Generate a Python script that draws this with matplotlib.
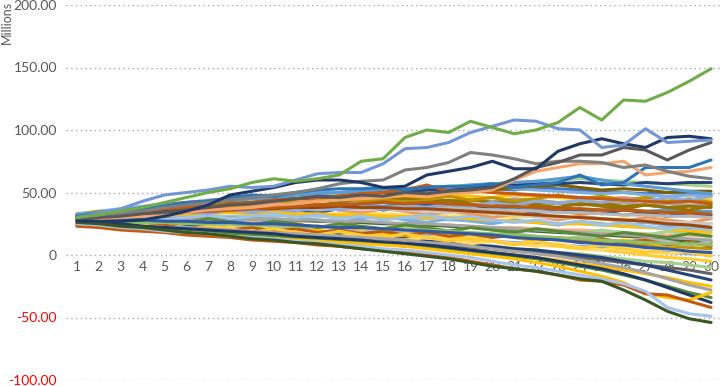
import matplotlib
matplotlib.use("Agg")
import matplotlib.pyplot as plt

categories = list(range(1, 31))
y_ticks = [-100, -50, 0, 50, 100, 150, 200]
y_tick_labels = ["-100.00", "-50.00", "0", "50.00", "100.00", "150.00", "200.00"]
unit_label = "Millions"

# ---- middle series ----
m01 = [32,34,35,37,38,40,41,43,44,46,45,47,48,47,49,50,51,50,52,53,52,54,53,52,51,50,49,50,49,48]
m02 = [30,32,33,35,36,37,39,40,41,42,44,43,45,46,45,47,46,48,47,46,48,47,46,45,46,44,45,43,44,44]
m03 = [27,29,31,32,33,35,36,36,38,39,38,40,41,42,42,44,43,42,44,43,45,44,42,43,41,42,40,41,40,40]
m04 = [29,30,32,33,33,34,35,36,36,38,37,39,38,40,39,41,40,39,40,38,39,37,38,37,36,37,35,36,35,35]
m05 = [31,32,32,34,35,34,36,37,36,37,38,37,38,38,37,38,37,36,37,35,36,34,35,33,34,32,33,31,32,30]
m06 = [26,27,28,29,29,30,31,31,32,32,33,32,33,34,33,32,33,31,32,31,30,31,29,30,28,29,27,26,26,25]
m07 = [28,28,29,29,30,30,30,31,31,31,32,31,31,30,30,29,29,28,28,27,27,26,25,25,24,23,22,22,21,20]
m08 = [25,26,26,27,27,27,28,28,27,28,27,27,26,26,25,25,24,24,23,22,22,21,20,20,19,18,17,16,16,15]
m09 = [30,30,30,31,30,30,29,29,29,28,28,27,27,26,25,25,24,23,22,21,20,19,18,17,16,15,14,12,11,10]
m10 = [27,27,26,26,26,25,25,24,24,23,23,22,22,21,20,19,19,18,17,16,15,14,13,12,11,10,8,7,6,5]
m11 = [24,24,23,23,22,22,21,21,20,20,19,18,18,17,16,15,14,13,12,11,10,9,8,7,6,5,3,2,1,0]
m12 = [26,25,25,24,23,23,22,21,21,20,19,18,17,17,16,15,14,13,12,11,9,8,7,5,4,2,0,-2,-3,-5]
m13 = [23,23,22,21,21,20,19,18,18,17,16,15,14,13,12,11,10,9,8,7,5,4,2,1,-1,-3,-5,-6,-8,-10]
m14 = [25,24,23,22,21,20,19,19,18,17,16,15,14,12,11,10,9,8,6,5,3,2,0,-2,-4,-6,-8,-10,-12,-15]
m15 = [28,27,26,25,24,23,22,21,20,19,18,17,16,15,14,13,11,10,8,7,5,4,2,0,-2,-5,-8,-12,-16,-20]
m16 = [24,23,22,21,20,19,18,17,16,15,14,13,12,11,10,8,7,5,4,2,0,-2,-4,-7,-9,-12,-15,-18,-22,-25]
m17 = [32,33,34,35,35,36,37,37,38,38,37,38,37,36,37,36,35,34,35,33,32,31,30,30,29,28,27,26,26,25]
m18 = [29,31,32,34,35,37,38,40,41,43,44,45,46,45,44,45,44,43,44,42,43,42,41,40,41,39,40,38,39,38]
m19 = [33,35,37,39,41,42,44,45,47,48,50,51,50,52,53,52,54,53,55,54,53,52,51,50,49,50,48,47,48,47]
m20 = [31,33,35,37,40,42,43,45,46,46,47,46,48,47,49,50,52,53,51,52,54,55,56,54,52,53,52,50,51,51]
m21 = [28,30,31,33,35,36,37,38,40,42,43,44,46,47,48,48,50,49,51,50,49,48,47,46,45,46,44,43,43,42]
m22 = [26,28,29,30,31,32,33,35,35,36,37,36,37,38,37,38,37,38,37,36,36,35,34,34,33,32,32,31,31,30]
m23 = [30,31,31,32,32,33,33,34,33,34,33,33,32,32,31,31,30,30,29,28,27,26,25,25,24,23,22,21,19,18]
m24 = [27,28,28,29,29,29,30,30,29,29,28,28,27,27,26,25,25,24,23,22,21,20,19,18,17,16,15,14,13,12]
m25 = [25,25,26,26,26,25,25,25,24,24,23,23,22,22,21,20,20,19,18,17,16,15,14,13,12,11,10,9,9,8]
m26 = [29,29,28,28,27,27,26,26,25,25,24,23,22,22,21,20,19,18,17,16,14,13,12,10,9,8,6,5,3,2]
m27 = [26,25,24,23,22,22,21,20,19,18,17,16,15,14,13,12,10,9,7,5,3,1,-1,-4,-7,-10,-14,-19,-24,-28]
m28 = [24,23,22,21,20,19,18,17,16,15,13,12,11,10,9,7,6,5,3,1,-1,-3,-6,-9,-12,-16,-20,-25,-30,-34]
m29 = [27,26,25,23,22,21,20,19,18,17,15,14,13,12,10,9,8,6,4,2,0,-2,-5,-8,-11,-15,-20,-26,-32,-38]
m30 = [25,24,22,21,19,18,17,15,14,13,12,11,10,9,8,7,5,3,1,-1,-3,-6,-9,-13,-17,-22,-31,-34,-36,-30]
m31 = [31,32,33,33,34,35,35,36,37,37,38,38,39,38,38,37,37,36,35,34,33,32,31,30,29,28,27,25,24,22]
m32 = [28,29,31,32,33,34,35,36,37,38,39,40,40,41,42,41,42,41,40,39,39,38,37,37,36,36,35,34,34,33]
m33 = [29,31,33,35,37,38,40,41,43,44,46,47,48,50,51,52,53,55,56,57,58,59,60,61,60,59,58,57,56,55]
m34 = [30,32,33,35,36,38,39,41,42,44,45,46,47,49,50,51,52,53,54,55,56,57,57,58,57,56,58,57,58,58]
m35 = [32,34,36,38,40,41,43,44,45,46,48,49,50,51,52,53,55,54,56,57,58,59,61,63,60,57,55,53,51,49]
m36 = [30,32,33,35,37,38,39,41,42,44,45,46,47,49,50,52,56,51,52,50,49,48,47,46,45,44,43,42,43,41]

# ---- wigglier middle series ----
n01 = [28,31,33,36,38,37,40,42,41,44,43,40,42,45,43,40,42,44,41,39,42,40,38,41,39,37,40,38,36,39]
n02 = [26,24,25,27,25,23,26,24,22,25,23,21,24,22,20,23,21,19,22,20,18,21,19,17,20,18,16,19,17,15]
n03 = [30,28,31,29,27,30,28,26,29,27,30,28,26,29,31,28,26,29,27,25,28,26,24,27,25,23,26,24,22,25]
n04 = [33,31,34,36,33,35,38,35,37,34,36,39,36,34,37,35,32,35,33,30,33,31,28,31,29,27,30,28,26,29]
n05 = [25,27,25,23,26,24,21,24,22,19,22,20,17,20,18,15,18,16,13,16,14,11,14,12,9,12,10,7,10,8]
n06 = [29,32,30,33,35,32,34,37,35,38,36,34,37,39,36,38,41,38,36,39,37,34,37,35,33,36,34,31,34,32]
n07 = [27,25,28,26,24,27,25,22,25,23,20,23,21,18,21,19,16,19,17,14,17,15,12,15,13,10,13,11,8,11]
n08 = [31,29,27,30,28,26,29,27,24,27,25,22,25,23,21,24,22,19,22,20,18,21,19,17,15,18,16,14,17,15]
n09 = [24,26,24,22,24,22,20,22,20,17,19,17,15,17,14,12,14,12,9,11,9,7,9,6,4,6,3,1,3,0]
n10 = [32,35,33,36,39,37,40,38,41,44,41,43,46,43,45,42,44,47,44,46,43,45,48,45,47,44,46,43,45,42]
n11 = [28,30,33,31,28,30,32,29,31,33,30,32,29,31,28,30,32,29,31,28,26,28,25,27,24,26,23,21,23,20]
n12 = [26,23,25,22,24,21,23,20,22,19,21,18,20,17,19,16,18,15,17,14,16,12,14,11,13,10,12,8,10,7]
n13 = [30,33,31,34,32,35,33,36,34,37,35,38,36,39,37,40,38,41,39,42,40,43,41,44,42,45,43,46,44,47]
n14 = [25,23,21,24,22,20,23,21,18,21,18,16,19,16,14,17,14,11,14,11,8,11,8,5,8,5,2,5,2,-1]

# ---- outer series ----
dorange_bot = [23,22,20,19,18,16,15,14,12,11,10,8,7,5,4,2,0,-2,-5,-8,-11,-13,-16,-20,-21,-24,-31,-32,-37,-42]
lblue_bot = [25,24,22,21,19,18,17,15,14,13,11,10,8,7,5,4,2,0,-2,-5,-8,-10,-13,-16,-19,-23,-29,-42,-47,-49]
dgreen_bot = [26,25,23,22,20,18,17,15,13,12,10,9,7,5,3,1,-1,-3,-6,-9,-11,-13,-16,-19,-21,-28,-36,-45,-51,-54]
blue_top = [31,33,35,37,39,42,43,46,48,47,50,52,53,53,54,52,54,55,55,57,54,56,58,64,56,58,70,70,70,76]
lorange_top = [27,29,30,31,33,34,36,37,38,40,41,43,44,45,46,48,47,49,50,52,60,67,70,73,73,75,64,66,67,70]
gray_top = [29,31,33,35,38,40,42,44,46,48,50,53,57,59,60,68,70,74,82,80,77,73,75,75,74,70,72,67,63,61]
dgray_top = [28,30,31,33,34,36,38,40,41,43,45,47,46,48,47,50,49,51,52,54,61,70,74,80,80,86,84,76,84,90]
navy_top = [27,27,27,28,31,35,40,48,51,54,58,60,60,58,54,55,64,67,70,75,69,69,83,89,93,89,86,94,95,93]
lightblue_top = [30,33,37,43,48,50,52,55,54,55,60,65,66,66,73,85,86,90,98,103,108,107,101,100,86,88,101,90,91,92]
green_top = [30,32,35,38,42,46,50,53,58,61,59,61,64,75,77,94,100,98,107,102,97,100,106,118,108,124,123,130,139,149]

series = [m01, m02, m03, m04, m05, m06, m07, m08, m09, m10, m11, m12,
          n01, n02, n03, n04, n05, n06, n07,
          m13, m14, m15, m16, m17, m18, m19, m20, m21, m22, m23, m24,
          n08, n09, n10, n11, n12, n13, n14,
          m25, m26, m27, m28, m29, m30, m31, m32, m33, m34, m35, m36,
          dorange_bot, lblue_bot, dgreen_bot, blue_top, lorange_top, gray_top,
          dgray_top, navy_top, lightblue_top, green_top]

colors = ['#4472C4', '#FFC000', '#A5A5A5', '#5B9BD5', '#ED7D31', '#FFD966',
          '#9DC3E6', '#F4B183', '#43682B', '#C09100', '#8FAADC', '#FFCD33',
          '#997300', '#A9D18E', '#7CAFDD', '#F1975A', '#FFC000', '#2F5597', '#B7B7B7',
          '#A9D18E', '#636363', '#264478', '#FFC000', '#C9C9C9', '#997300',
          '#7CAFDD', '#7F6000', '#F1975A', '#B7B7B7', '#FFC000', '#A5A5A5',
          '#5A8A39', '#FFD966', '#C09100', '#9DC3E6', '#BD5B0F', '#8FAADC', '#FFCD33',
          '#8CC168', '#335AA1', '#A5A5A5', '#5A8A39', '#203864', '#FFC000',
          '#9E480E', '#BD5B0F', '#A9D18E', '#264478', '#5B9BD5', '#C55A11',
          '#C55A11', '#A9C4EB', '#385723', '#2E75B6', '#F4A56E', '#808080',
          '#595959', '#203864', '#7396D6', '#70AD47']

font = 'Lato'
plt.rcParams['font.family'] = [font, 'DejaVu Sans']

fig = plt.figure(figsize=(7.22, 3.86), dpi=100)
ax = fig.add_axes([66 / 722, 6 / 386, 656 / 722, 375 / 386])

for s, c in zip(series, colors):
    ax.plot(categories, s, color=c, lw=2.2, solid_joinstyle='round',
            solid_capstyle='round', zorder=3)

ax.set_xlim(0.5, 30.5)
ax.set_ylim(-100, 200)
ax.set_yticks(y_ticks)
ax.set_yticklabels(y_tick_labels)
ax.set_xticks(categories)
ax.set_xticklabels([str(c) for c in categories])

for lab, v in zip(ax.get_yticklabels(), y_ticks):
    lab.set_color('#FF0000' if v < 0 else '#595959')
ax.tick_params(axis='y', length=0, pad=6.5, labelsize=10)
ax.tick_params(axis='x', length=0, pad=4, labelsize=10, labelcolor='#595959')

for sp in ['top', 'right', 'left']:
    ax.spines[sp].set_visible(False)
ax.spines['bottom'].set_position(('data', 0))
ax.spines['bottom'].set_color('none')

ax.grid(axis='y', color='#A6A6A6', lw=1.0, linestyle=(0, (1, 2.4)), zorder=1)
ax.set_axisbelow(True)

fig.text(0.001, 0.999, unit_label, rotation=90, ha='left', va='top',
         fontsize=9, color='#595959')

fig.savefig('out.png', dpi=100)
